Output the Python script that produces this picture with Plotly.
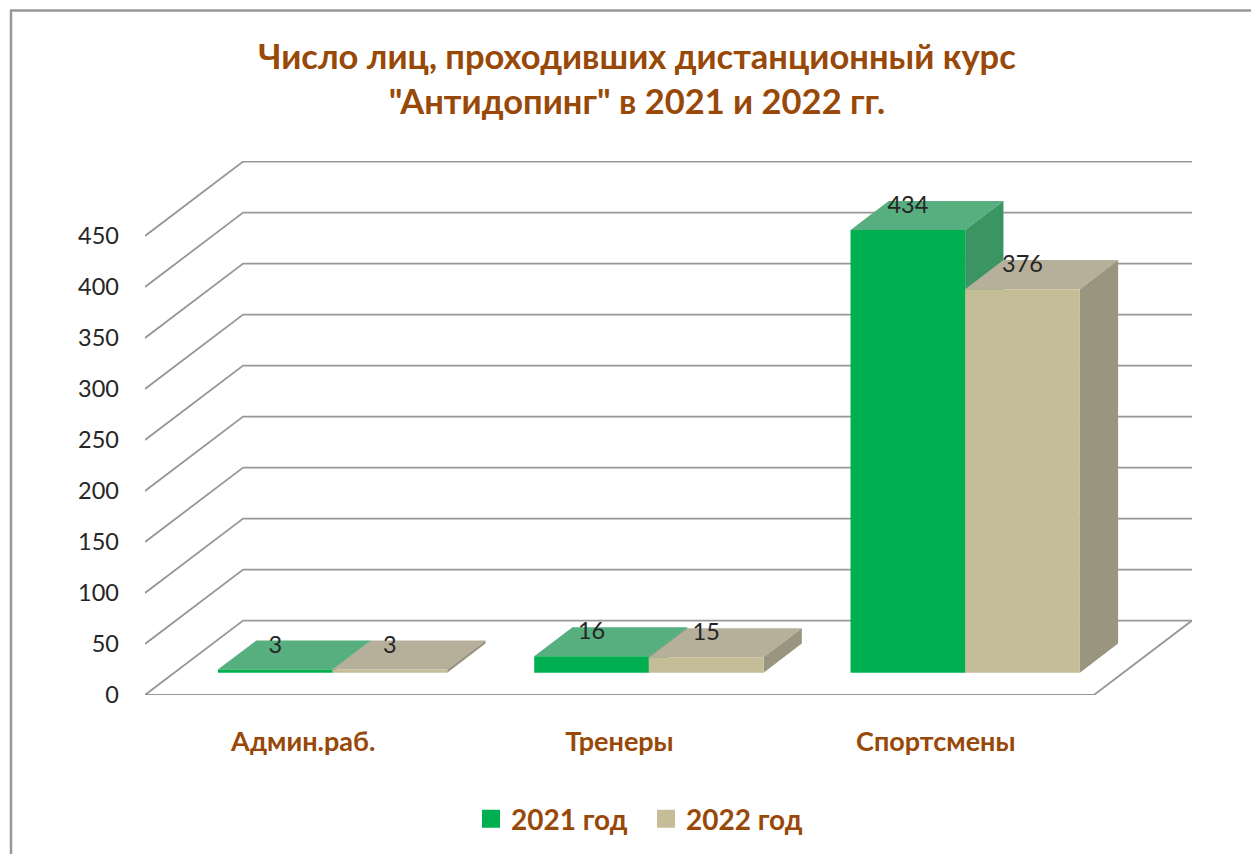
import plotly.graph_objects as go

categories = ["Админ.раб.", "Тренеры", "Спортсмены"]
series_names = ["2021 год", "2022 год"]
values_2021 = [3, 16, 434]
values_2022 = [3, 15, 376]
y_ticks = [0, 50, 100, 150, 200, 250, 300, 350, 400, 450]

FONT = "Lato, 'Noto Sans', sans-serif"
BROWN = "#984807"
GRID = "#979797"
FRONT = ["#00B050", "#C4BD97"]
TOP = ["#57AE7F", "#B6B09B"]
SIDE = ["#3A9563", "#99957F"]

# oblique projection: one depth unit moves a point right and up
DX = 0.3101      # category units per full depth
DY = 73.0        # value units per full depth
BAR_W = 0.3625   # bar width in category units
D0, D1 = 0.30, 0.69   # bar front and back depth


def proj(x, v, d):
    return x + d * DX, v + d * DY


def poly(points, color):
    xs, ys = zip(*[proj(*p) for p in points + points[:1]])
    return go.Scatter(x=xs, y=ys, mode="lines", fill="toself", fillcolor=color,
                      line=dict(width=0), showlegend=False, hoverinfo="skip", cliponaxis=False)


def wall_line(points):
    xs, ys = zip(*[proj(*p) for p in points])
    return go.Scatter(x=xs, y=ys, mode="lines", line=dict(color=GRID, width=1.8),
                      showlegend=False, hoverinfo="skip", cliponaxis=False)


fig = go.Figure()
n = len(categories)

# walls and floor
for t in y_ticks:
    fig.add_trace(wall_line([(0, t, 0), (0, t, 1), (n, t, 1)]))
fig.add_trace(wall_line([(0, 0, 0), (n, 0, 0), (n, 0, 1)]))

# bars
for i, vals in enumerate(zip(values_2021, values_2022)):
    for s, v in enumerate(vals):
        x0 = i + 0.5 - BAR_W + s * BAR_W
        x1 = x0 + BAR_W
        fig.add_trace(poly([(x0, v, D0), (x1, v, D0), (x1, v, D1), (x0, v, D1)], TOP[s]))
        fig.add_trace(poly([(x1, 0, D0), (x1, 0, D1), (x1, v, D1), (x1, v, D0)], SIDE[s]))
        fig.add_trace(poly([(x0, 0, D0), (x1, 0, D0), (x1, v, D0), (x0, v, D0)], FRONT[s]))

# value labels
for s, vals in enumerate([values_2021, values_2022]):
    xs = [proj(i + 0.5 - BAR_W + s * BAR_W + BAR_W / 2, 0, D0)[0] for i in range(n)]
    ys = [proj(0, v - 6, D1)[1] for v in vals]
    fig.add_trace(go.Scatter(x=xs, y=ys, mode="text", text=[str(v) for v in vals],
                             textposition="middle center",
                             textfont=dict(family=FONT, size=23.5, color="#262626"),
                             showlegend=False, hoverinfo="skip", cliponaxis=False))

# legend entries
for s, name in enumerate(series_names):
    fig.add_trace(go.Scatter(x=[None], y=[None], mode="markers", name=name,
                             marker=dict(symbol="square", size=16, color=FRONT[s],
                                         line=dict(color=FRONT[s], width=2))))

L, R, T, B = 145, 59, 161, 159
W, H = 1251, 854
px = lambda x: (x - L) / (W - L - R)
py = lambda y: (H - B - y) / (H - T - B)

fig.update_layout(
    width=W, height=H, autosize=False,
    margin=dict(l=L, r=R, t=T, b=B, autoexpand=False),
    paper_bgcolor="white", plot_bgcolor="white",
    title=dict(text='Число лиц, проходивших дистанционный курс<br>"Антидопинг" в 2021 и 2022 гг.',
               x=637 / W, xanchor="center", y=1 - 69 / H, yanchor="middle",
               font=dict(family=FONT, size=34.5, color=BROWN, weight="bold")),
    xaxis=dict(range=[0, n + DX], tickvals=[i + 0.5 for i in range(n)], ticktext=categories,
               showgrid=False, zeroline=False, showline=False, ticks="", ticklabelstandoff=28,
               tickfont=dict(family=FONT, size=27, color=BROWN, weight="bold")),
    yaxis=dict(range=[0, 534 / 1.02], tickvals=y_ticks, showgrid=False, zeroline=False,
               showline=False, ticks="", ticklabelstandoff=25,
               tickfont=dict(family=FONT, size=23.5, color="#262626")),
    legend=dict(orientation="h", x=px(471), xanchor="left", y=py(819), yanchor="middle",
                font=dict(family=FONT, size=28, color=BROWN, weight="bold"),
                entrywidth=130, entrywidthmode="pixels",
                itemsizing="trace", traceorder="normal", bgcolor="rgba(0,0,0,0)"),
    shapes=[
        dict(type="line", xref="paper", yref="paper", x0=px(11), x1=px(11), y0=py(10), y1=py(854),
             line=dict(color="#999999", width=2.5)),
        dict(type="line", xref="paper", yref="paper", x0=px(10), x1=px(1251), y0=py(10.5), y1=py(10.5),
             line=dict(color="#999999", width=2.5)),
    ],
)

fig.write_html("out.html", config={"displayModeBar": False},
               post_script="document.body.style.margin='0';")
